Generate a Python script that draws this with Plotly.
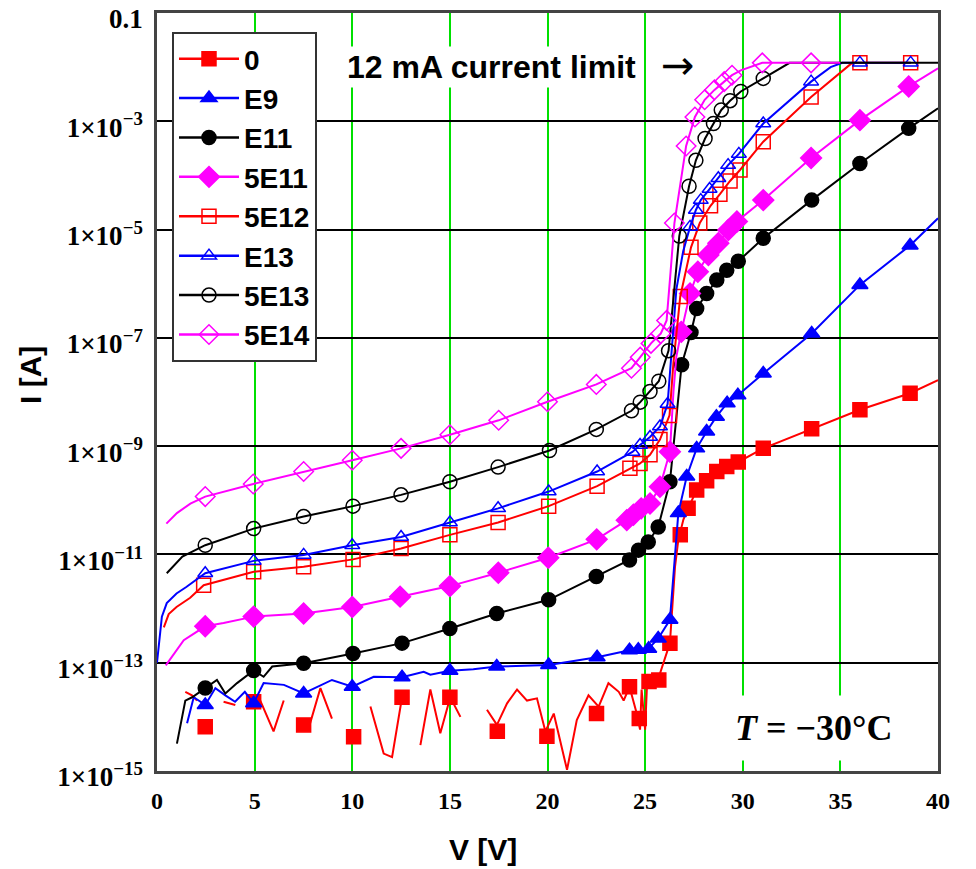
import plotly.graph_objects as go

# ---------------------------------------------------------------
# I-V curves of irradiated diodes at T = -30 C, one curve per fluence
# (current in A, bias in V).  None marks a break in the measured curve
# (negative current readings that cannot be shown on a log axis).
# ---------------------------------------------------------------
fluences = ["0", "E9", "E11", "5E11", "5E12", "E13", "5E13", "5E14"]

# fluence 0 : measured curve
v_0 = [1.45, 1.79, 2.05, None, 3.41, 4.01, None, 5.29, 5.97, 6.49, None,
       7.77, 8.37, 8.96, None, 10.93, 11.61, 12.04, 12.29, 12.55, None,
       13.49, 14.0, 14.51, 15.02, 15.54, None,
       16.9, 17.41, 17.93, 18.44, 18.95, 19.46, 19.89, 20.32, 21.0, 21.5,
       22.1, 22.62, 23.12, 23.65, 23.9, 24.2, 24.57, 24.74, 24.82, 25.0,
       25.1, 25.76, 26.27, 26.53, 26.7, 26.96, 27.2, 27.64, 28.15, 28.67,
       29.18, 29.77, 31.05, 33.53, 36.0, 38.57, 40.0]
i_0 = [2.9e-14, 2.5e-14, 2.0e-14, None, 1.9e-14, 1.66e-14, None,
       2.0e-14, 5.4e-15, 2.0e-14, None, 6.2e-15, 3.4e-14, 9.3e-15, None,
       1.55e-14, 2.1e-15, 1.8e-15, 6.6e-15, 2.3e-14, None,
       3.0e-15, 3.2e-14, 5.0e-15, 2.3e-14, 1.0e-14, None,
       1.35e-14, 7.1e-15, 1.78e-14, 3.2e-14, 2.0e-14, 2.2e-14, 5.4e-15,
       1.15e-14, 1.05e-15, 8.7e-15, 2.5e-14, 1.55e-14, 4.2e-14, 2.9e-14,
       2.0e-14, 3.6e-14, 1.15e-14, 5.8e-15, 3.2e-14, 5.8e-15, 4.2e-14,
       6.3e-14, 2.3e-13, 5.9e-12, 1.86e-11, 4.4e-11, 7.1e-11, 1.55e-10,
       2.3e-10, 3.4e-10, 4.2e-10, 5.1e-10, 9.1e-10, 2.1e-9, 4.7e-9,
       9.5e-9, 1.66e-8]
mv_0 = [2.47, 4.95, 7.51, 10.07, 12.55, 15.0, 17.43, 19.97, 22.51, 24.2,
        24.7, 25.2, 25.7, 26.27, 26.8, 27.2, 27.64, 28.15, 28.67, 29.18,
        29.77, 31.05, 33.53, 36.0, 38.57]
mi_0 = [6.6e-15, 1.9e-14, 7.1e-15, 4.3e-15, 2.3e-14, 2.3e-14, 5.4e-15,
        4.4e-15, 1.15e-14, 3.6e-14, 9.3e-15, 4.5e-14, 4.8e-14, 2.3e-13,
        2.3e-11, 7.1e-11, 1.55e-10, 2.3e-10, 3.4e-10, 4.2e-10, 5.1e-10,
        9.1e-10, 2.1e-9, 4.7e-9, 9.5e-9]

# fluence E9
v_e9 = [1.54, 1.88, 2.47, 2.99, 3.5, 4.0, 4.5, 4.95, 5.46, 6.5, 7.51, 8.96,
        10.0, 11.1, 12.55, 13.66, 14.0, 15.0, 16.2, 17.4, 20.06, 22.54,
        24.2, 24.65, 25.18, 25.67, 26.27, 26.7, 27.13, 27.64, 28.15, 28.65,
        29.2, 29.75, 31.05, 33.53, 36.0, 38.57, 40.0]
i_e9 = [7.6e-15, 2.3e-14, 1.66e-14, 3.4e-14, 2.5e-14, 1.9e-14, 2.9e-14,
        1.78e-14, 4.2e-14, 3.9e-14, 2.7e-14, 4.8e-14, 3.6e-14, 5.5e-14,
        5.4e-14, 6.8e-14, 6.0e-14, 7.1e-14, 7.6e-14, 8.5e-14, 9.1e-14,
        1.26e-13, 1.7e-13, 1.74e-13, 1.82e-13, 2.8e-13, 6.2e-13, 5.8e-11,
        2.75e-10, 9.1e-10, 1.86e-9, 3.5e-9, 6.2e-9, 8.7e-9, 2.2e-8, 1.2e-7,
        9.5e-7, 5.1e-6, 1.62e-5]
mv_e9 = [2.47, 4.95, 7.51, 10.0, 12.55, 15.0, 17.4, 20.06, 22.54, 24.2,
         24.65, 25.18, 25.67, 26.27, 26.7, 27.13, 27.64, 28.15, 28.65, 29.2,
         29.75, 31.05, 33.53, 36.0, 38.57]
mi_e9 = [1.66e-14, 1.78e-14, 2.7e-14, 3.6e-14, 5.4e-14, 7.1e-14, 8.5e-14,
         9.1e-14, 1.26e-13, 1.7e-13, 1.74e-13, 1.82e-13, 2.8e-13, 6.2e-13,
         5.8e-11, 2.75e-10, 9.1e-10, 1.86e-9, 3.5e-9, 6.2e-9, 8.7e-9,
         2.2e-8, 1.2e-7, 9.5e-7, 5.1e-6]

# fluence E11
v_e11 = [1.02, 1.45, 1.8, 2.47, 3.07, 3.5, 4.1, 4.95, 5.46, 5.9, 7.51,
         10.04, 12.55, 15.0, 17.4, 20.06, 22.5, 24.2, 24.66, 25.16, 25.67,
         26.27, 26.87, 27.35, 27.64, 28.15, 28.67, 29.18, 29.77, 31.05,
         33.53, 36.0, 38.5, 40.0]
i_e11 = [3.2e-15, 2.0e-14, 2.3e-14, 3.4e-14, 4.8e-14, 2.7e-14, 4.2e-14,
         7.2e-14, 5.5e-14, 8.5e-14, 9.8e-14, 1.48e-13, 2.3e-13, 4.3e-13,
         8.1e-13, 1.45e-12, 3.9e-12, 7.9e-12, 1.2e-11, 1.7e-11, 3.2e-11,
         2.2e-10, 3.2e-8, 1.26e-7, 3.5e-7, 6.6e-7, 1.17e-6, 1.78e-6, 2.6e-6,
         6.9e-6, 3.5e-5, 1.66e-4, 7.4e-4, 1.74e-3]
mv_e11 = [2.47, 4.95, 7.51, 10.04, 12.55, 15.0, 17.4, 20.06, 22.5, 24.2,
          24.66, 25.16, 25.67, 26.27, 26.87, 27.35, 27.64, 28.15, 28.67,
          29.18, 29.77, 31.05, 33.53, 36.0, 38.5]
mi_e11 = [3.4e-14, 7.2e-14, 9.8e-14, 1.48e-13, 2.3e-13, 4.3e-13, 8.1e-13,
          1.45e-12, 3.9e-12, 7.9e-12, 1.2e-11, 1.7e-11, 3.2e-11, 2.2e-10,
          3.2e-8, 1.26e-7, 3.5e-7, 6.6e-7, 1.17e-6, 1.78e-6, 2.6e-6, 6.9e-6,
          3.5e-5, 1.66e-4, 7.4e-4]

# fluence 5E11
v_5e11 = [0.45, 1.02, 1.37, 2.47, 3.41, 4.95, 7.51, 10.0, 12.45, 15.0, 17.48,
          20.04, 22.52, 24.06, 24.4, 24.8, 25.25, 25.76, 26.27, 26.45, 26.6,
          26.85, 27.3, 27.7, 28.24, 28.75, 29.26, 29.7, 31.05, 33.5, 36.0,
          38.5, 40.0]
i_5e11 = [8.9e-14, 1.7e-13, 2.6e-13, 4.7e-13, 5.4e-13, 7.1e-13, 8.1e-13,
          1.07e-12, 1.66e-12, 2.6e-12, 4.6e-12, 8.7e-12, 1.9e-11, 4.3e-11,
          5.4e-11, 7.1e-11, 8.7e-11, 1.78e-10, 7.9e-10, 1.0e-8, 4.5e-8,
          1.29e-7, 6.6e-7, 1.66e-6, 3.4e-6, 5.6e-6, 9.8e-6, 1.41e-5, 3.5e-5,
          2.1e-4, 1.05e-3, 4.4e-3, 9.5e-3]
mv_5e11 = [2.47, 4.95, 7.51, 10.0, 12.45, 15.0, 17.48, 20.04, 22.52, 24.06,
           24.4, 24.8, 25.25, 25.76, 26.27, 26.85, 27.3, 27.7, 28.24, 28.75,
           29.26, 29.7, 31.05, 33.5, 36.0, 38.5]
mi_5e11 = [4.7e-13, 7.1e-13, 8.1e-13, 1.07e-12, 1.66e-12, 2.6e-12, 4.6e-12,
           8.7e-12, 1.9e-11, 4.3e-11, 5.4e-11, 7.1e-11, 8.7e-11, 1.78e-10,
           7.9e-10, 1.29e-7, 6.6e-7, 1.66e-6, 3.4e-6, 5.6e-6, 9.8e-6, 1.41e-5,
           3.5e-5, 2.1e-4, 1.05e-3, 4.4e-3]

# fluence 5E12
v_5e12 = [0.35, 0.6, 1.0, 1.7, 2.39, 4.95, 7.51, 10.04, 12.5, 15.0, 17.47,
          20.06, 22.54, 24.22, 24.74, 25.25, 25.76, 26.25, 26.45, 26.8, 27.35,
          27.8, 28.35, 28.83, 29.35, 29.86, 31.05, 33.5, 35.6, 36.0, 38.6]
i_5e12 = [4.5e-13, 7.9e-13, 1.07e-12, 1.58e-12, 2.7e-12, 4.8e-12, 5.9e-12,
          8.1e-12, 1.29e-11, 2.3e-11, 3.9e-11, 7.8e-11, 1.82e-10, 3.9e-10,
          4.8e-10, 6.9e-10, 1.32e-9, 3.7e-9, 3.5e-8, 5.8e-7, 4.7e-6, 1.32e-5,
          2.75e-5, 4.5e-5, 7.9e-5, 1.26e-4, 4.2e-4, 2.8e-3, 0.012, 0.012,
          0.012]
mv_5e12 = [2.39, 4.95, 7.51, 10.04, 12.5, 15.0, 17.47, 20.06, 22.54, 24.22,
           24.74, 25.25, 25.76, 26.25, 26.8, 27.35, 27.8, 28.35, 28.83, 29.35,
           29.86, 31.05, 33.5, 36.0, 38.6]
mi_5e12 = [2.7e-12, 4.8e-12, 5.9e-12, 8.1e-12, 1.29e-11, 2.3e-11, 3.9e-11,
           7.8e-11, 1.82e-10, 3.9e-10, 4.8e-10, 6.9e-10, 1.32e-9, 3.7e-9,
           5.8e-7, 4.7e-6, 1.32e-5, 2.75e-5, 4.5e-5, 7.9e-5, 1.26e-4, 4.2e-4,
           2.8e-3, 0.012, 0.012]

# fluence E13
v_e13 = [0.0, 0.25, 0.5, 1.0, 1.5, 2.47, 4.95, 7.51, 10.0, 12.5, 15.0, 17.47,
         20.06, 22.54, 24.35, 24.74, 25.25, 25.76, 26.15, 26.35, 26.6, 26.95,
         27.3, 27.6, 27.85, 28.3, 28.75, 29.25, 29.8, 31.05, 33.5, 34.5,
         35.1, 36.0, 38.6]
i_e13 = [1.0e-13, 7.1e-13, 1.26e-12, 1.9e-12, 2.5e-12, 4.5e-12, 7.6e-12,
         9.8e-12, 1.48e-11, 2.1e-11, 3.9e-11, 7.1e-11, 1.45e-10, 3.4e-10,
         7.8e-10, 1.05e-9, 1.48e-9, 2.3e-9, 6.0e-9, 6.3e-8, 7.9e-7, 4.0e-6,
         1.12e-5, 2.3e-5, 3.5e-5, 5.6e-5, 8.9e-5, 1.55e-4, 2.5e-4, 9.1e-4,
         5.4e-3, 1.0e-2, 0.012, 0.012, 0.012]
mv_e13 = [2.47, 4.95, 7.51, 10.0, 12.5, 15.0, 17.47, 20.06, 22.54, 24.35,
          24.74, 25.25, 25.76, 26.15, 27.3, 27.6, 27.85, 28.3, 28.75, 29.25,
          29.8, 31.05, 33.5, 36.0, 38.6]
mi_e13 = [4.5e-12, 7.6e-12, 9.8e-12, 1.48e-11, 2.1e-11, 3.9e-11, 7.1e-11,
          1.45e-10, 3.4e-10, 7.8e-10, 1.05e-9, 1.48e-9, 2.3e-9, 6.0e-9,
          1.12e-5, 2.3e-5, 3.5e-5, 5.6e-5, 8.9e-5, 1.55e-4, 2.5e-4, 9.1e-4,
          5.4e-3, 0.012, 0.012]

# fluence 5E13
v_5e13 = [0.5, 1.3, 2.47, 4.95, 7.51, 10.04, 12.5, 15.0, 17.47, 20.1, 22.5,
          24.3, 24.75, 25.25, 25.7, 26.2, 26.45, 26.75, 27.25, 27.6, 28.07,
          28.5, 28.9, 29.35, 29.9, 31.05, 32.4, 40.0]
i_5e13 = [4.5e-12, 9.1e-12, 1.48e-11, 3.0e-11, 5.0e-11, 7.8e-11, 1.26e-10,
          2.2e-10, 4.1e-10, 8.3e-10, 2.04e-9, 4.5e-9, 6.5e-9, 1.02e-8,
          1.58e-8, 5.8e-8, 5.0e-7, 7.6e-6, 6.3e-5, 1.9e-4, 4.8e-4, 9.1e-4,
          1.62e-3, 2.4e-3, 3.55e-3, 6.2e-3, 0.012, 0.012]
mv_5e13 = [2.47, 4.95, 7.51, 10.04, 12.5, 15.0, 17.47, 20.1, 22.5, 24.3,
           24.75, 25.25, 25.7, 26.2, 26.75, 27.25, 27.6, 28.07, 28.5, 28.9,
           29.35, 29.9, 31.05]
mi_5e13 = [1.48e-11, 3.0e-11, 5.0e-11, 7.8e-11, 1.26e-10, 2.2e-10, 4.1e-10,
           8.3e-10, 2.04e-9, 4.5e-9, 6.5e-9, 1.02e-8, 1.58e-8, 5.8e-8,
           7.6e-6, 6.3e-5, 1.9e-4, 4.8e-4, 9.1e-4, 1.62e-3, 2.4e-3, 3.55e-3,
           6.2e-3]

# fluence 5E14
v_5e14 = [0.48, 1.02, 1.71, 2.47, 4.93, 7.51, 10.0, 12.5, 15.0, 17.5, 20.0,
          22.5, 24.3, 24.75, 25.3, 25.8, 26.1, 26.3, 26.5, 27.1, 27.55, 28.05,
          28.55, 29.05, 29.45, 29.9, 31.0, 33.5, 35.0]
i_5e14 = [3.7e-11, 5.8e-11, 8.7e-11, 1.17e-10, 2.0e-10, 3.4e-10, 5.5e-10,
          9.1e-10, 1.62e-9, 3.0e-9, 6.6e-9, 1.38e-8, 2.75e-8, 4.4e-8, 7.9e-8,
          1.2e-7, 2.1e-7, 1.6e-6, 1.32e-5, 3.5e-4, 1.2e-3, 2.5e-3, 3.8e-3,
          5.4e-3, 7.1e-3, 8.7e-3, 0.012, 0.012, 0.012]
mv_5e14 = [2.47, 4.93, 7.51, 10.0, 12.5, 15.0, 17.5, 20.0, 22.5, 24.3, 24.75,
           25.3, 25.8, 26.1, 26.5, 27.1, 27.55, 28.05, 28.55, 29.05, 29.45,
           31.0, 33.5]
mi_5e14 = [1.17e-10, 2.0e-10, 3.4e-10, 5.5e-10, 9.1e-10, 1.62e-9, 3.0e-9,
           6.6e-9, 1.38e-8, 2.75e-8, 4.4e-8, 7.9e-8, 1.2e-7, 2.1e-7, 1.32e-5,
           3.5e-4, 1.2e-3, 2.5e-3, 3.8e-3, 5.4e-3, 7.1e-3, 0.012, 0.012]

# axis ticks
x_ticks = [0, 5, 10, 15, 20, 25, 30, 35, 40]
y_ticks = [1e-1, 1e-3, 1e-5, 1e-7, 1e-9, 1e-11, 1e-13, 1e-15]
y_ticktext = ["0.1", "1×10<sup>−3</sup>", "1×10<sup>−5</sup>",
              "1×10<sup>−7</sup>", "1×10<sup>−9</sup>", "1×10<sup>−11</sup>",
              "1×10<sup>−13</sup>", "1×10<sup>−15</sup>"]

curves = [(v_0, i_0, mv_0, mi_0), (v_e9, i_e9, mv_e9, mi_e9),
          (v_e11, i_e11, mv_e11, mi_e11), (v_5e11, i_5e11, mv_5e11, mi_5e11),
          (v_5e12, i_5e12, mv_5e12, mi_5e12), (v_e13, i_e13, mv_e13, mi_e13),
          (v_5e13, i_5e13, mv_5e13, mi_5e13), (v_5e14, i_5e14, mv_5e14, mi_5e14)]

# drawing style per fluence: (colour, marker symbol, marker size)
styles = [("#ff0000", "square", 14),
          ("#0000ff", "triangle-up", 14),
          ("#000000", "circle", 14),
          ("#ff00ff", "diamond", 16),
          ("#ff0000", "square-open", 14),
          ("#0000ff", "triangle-up-open", 13),
          ("#000000", "circle-open", 14),
          ("#ff00ff", "diamond-open", 15)]

fig = go.Figure()

# legend entries (line + marker sample)
for name, (col, sym, size) in zip(fluences, styles):
    fig.add_trace(go.Scatter(
        x=[None], y=[None], mode="lines+markers", name=name,
        line=dict(color=col, width=2.5),
        marker=dict(symbol=sym, size=size, color=col,
                    line=dict(color=col, width=1.5))))

# measured curves and their sampled markers
for name, (v, i, mv, mi), (col, sym, size) in zip(fluences, curves, styles):
    fig.add_trace(go.Scatter(
        x=v, y=i, mode="lines", showlegend=False, connectgaps=False,
        line=dict(color=col, width=2), hoverinfo="skip"))
    fig.add_trace(go.Scatter(
        x=mv, y=mi, mode="markers", showlegend=False, name=name,
        marker=dict(symbol=sym, size=size, color=col,
                    line=dict(color=col, width=1.5))))

tick_font = dict(family="Liberation Serif, Times New Roman, serif",
                 size=27, color="black", weight="bold")
label_font = dict(family="Liberation Sans, Arial, sans-serif",
                  size=30, color="black", weight="bold")

fig.update_xaxes(
    range=[0, 40], tickvals=x_ticks, ticks="", showgrid=True,
    gridcolor="#00e000", gridwidth=1.5, zeroline=False,
    showline=True, linecolor="#444444", linewidth=2.5, mirror=True,
    tickfont=dict(tick_font, size=24), ticklabelstandoff=6,
    ticklabeloverflow="allow", automargin=False)
fig.update_yaxes(
    type="log", range=[-15, -1], tickvals=y_ticks, ticktext=y_ticktext,
    ticks="", showgrid=True, gridcolor="#000000", gridwidth=1.5,
    zeroline=False, showline=True, linecolor="#444444", linewidth=2.5,
    mirror=True, tickfont=tick_font, ticklabelstandoff=6,
    ticklabelshift=6, ticklabeloverflow="allow", automargin=False)

fig.update_layout(
    width=976, height=869,
    margin=dict(l=157, r=38, t=13, b=98, autoexpand=False),
    paper_bgcolor="white", plot_bgcolor="white",
    legend=dict(x=0.0192, y=0.975, xanchor="left", yanchor="top",
                bgcolor="white", bordercolor="#333333", borderwidth=2,
                font=dict(label_font, size=28), itemwidth=60,
                tracegroupgap=0),
    annotations=[
        dict(text="V [V]", xref="paper", yref="paper", x=0.4174, y=-0.103,
             xanchor="center", yanchor="middle", showarrow=False,
             font=label_font),
        dict(text="I [A]", xref="paper", yref="paper", x=-0.1626, y=0.5224,
             xanchor="center", yanchor="middle", textangle=-90,
             showarrow=False, font=label_font),
        dict(text="12 mA current limit", xref="paper", yref="paper",
             x=0.4277, y=0.9288, xanchor="center", yanchor="middle",
             showarrow=False, bgcolor="white", borderpad=2,
             font=dict(label_font, size=32)),
        dict(text="→", xref="paper", yref="paper", x=0.667, y=0.932,
             xanchor="center", yanchor="middle", showarrow=False,
             font=dict(family="DejaVu Sans", size=40, color="black")),
        dict(text="<i>T</i> = −30°C", xref="paper", yref="paper",
             x=0.841, y=0.0567, xanchor="center", yanchor="middle",
             showarrow=False, bgcolor="white", borderpad=12,
             font=dict(family="Liberation Serif, Times New Roman, serif",
                       size=36, color="black", weight="bold")),
    ],
)

fig.write_html("out.html")
